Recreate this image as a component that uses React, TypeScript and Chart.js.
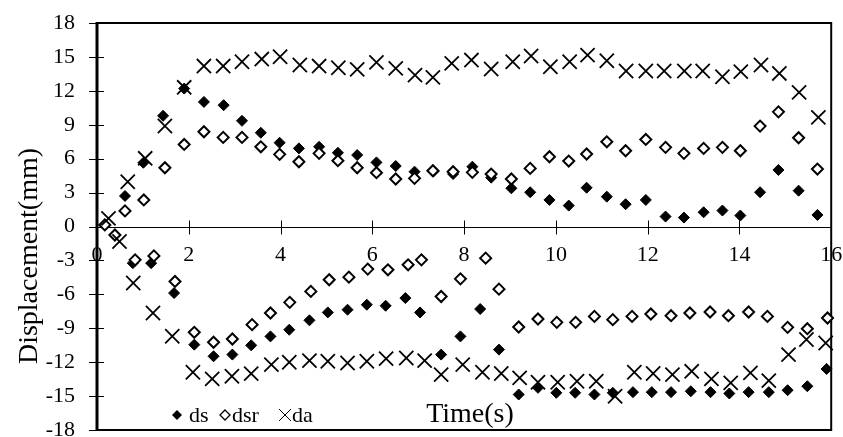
import React, { useEffect, useRef } from "react";
import { Chart, registerables } from "chart.js";

Chart.register(...registerables);

// ---- data ----
const dsTime = [
  0.61, 1.01, 1.44, 1.9, 2.33, 2.76, 3.16, 3.57, 3.98, 4.4, 4.84, 5.25, 5.67, 6.09, 6.51, 6.92, 7.34, 7.76, 8.18, 8.59,
  9.03, 9.44, 9.86, 10.28, 10.67, 11.11, 11.52, 11.96, 12.39, 12.79, 13.22, 13.63, 14.02, 14.45, 14.85, 15.29, 15.7,
  0.78, 1.18, 1.68, 2.12, 2.54, 2.95, 3.36, 3.78, 4.19, 4.63, 5.03, 5.46, 5.88, 6.29, 6.72, 7.04, 7.5, 7.92, 8.35, 8.76,
  9.19, 9.61, 10.01, 10.42, 10.84, 11.24, 11.68, 12.09, 12.51, 12.94, 13.37, 13.78, 14.2, 14.64, 15.05, 15.48, 15.9,
];
const dsValues = [
  2.7, 5.64, 9.79, 12.2, 11.02, 10.73, 9.35, 8.29, 7.41, 6.91, 7.05, 6.52, 6.32, 5.67, 5.35, 4.85, 4.9, 4.64, 5.29, 4.32,
  3.38, 3.03, 2.35, 1.85, 3.43, 2.64, 1.97, 2.35, 0.88, 0.79, 1.26, 1.41, 0.97, 3.03, 5.0, 3.17, 1.02,
  -3.24, -3.24, -5.89, -10.45, -11.48, -11.33, -10.51, -9.72, -9.13, -8.3, -7.6, -7.36, -6.92, -7.01, -6.33, -7.6,
  -11.33, -9.72, -7.3, -10.89, -14.86, -14.27, -14.71, -14.71, -14.86, -14.71, -14.65, -14.65, -14.65, -14.57, -14.65,
  -14.77, -14.65, -14.65, -14.48, -14.13, -12.6,
];

const dsrTime = [
  0.17, 0.61, 1.02, 1.48, 1.9, 2.33, 2.75, 3.16, 3.57, 3.98, 4.4, 4.84, 5.25, 5.67, 6.09, 6.51, 6.92, 7.32, 7.76, 8.18,
  8.59, 9.03, 9.44, 9.86, 10.28, 10.67, 11.11, 11.52, 11.96, 12.39, 12.79, 13.22, 13.63, 14.02, 14.45, 14.85, 15.29, 15.7,
  0.39, 0.83, 1.24, 1.7, 2.12, 2.54, 2.95, 3.38, 3.78, 4.2, 4.66, 5.06, 5.49, 5.9, 6.34, 6.78, 7.07, 7.5, 7.92, 8.47,
  8.76, 9.19, 9.61, 10.02, 10.43, 10.84, 11.24, 11.66, 12.07, 12.51, 12.92, 13.36, 13.76, 14.2, 14.61, 15.05, 15.48, 15.92,
];
const dsrValues = [
  0.14, 1.38, 2.35, 5.2, 7.26, 8.38, 7.88, 7.88, 7.05, 6.38, 5.73, 6.47, 5.82, 5.2, 4.76, 4.2, 4.26, 4.93, 4.85, 4.79,
  4.64, 4.2, 5.14, 6.17, 5.79, 6.41, 7.49, 6.7, 7.7, 7.0, 6.47, 6.91, 7.0, 6.7, 8.88, 10.14, 7.85, 5.08,
  -0.75, -2.95, -2.6, -4.86, -9.36, -10.24, -9.95, -8.68, -7.65, -6.71, -5.74, -4.71, -4.48, -3.77, -3.83, -3.39, -2.95,
  -6.19, -4.63, -2.8, -5.54, -8.89, -8.18, -8.48, -8.48, -7.95, -8.24, -7.95, -7.74, -7.89, -7.65, -7.56, -7.89, -7.56,
  -7.95, -8.92, -9.04, -8.09,
];

const daTime = [
  0.25, 0.67, 1.05, 1.48, 1.9, 2.33, 2.75, 3.16, 3.59, 3.99, 4.42, 4.84, 5.26, 5.67, 6.09, 6.51, 6.93, 7.32, 7.73, 8.16,
  8.59, 9.06, 9.46, 9.88, 10.3, 10.69, 11.11, 11.53, 11.96, 12.36, 12.8, 13.2, 13.63, 14.03, 14.47, 14.87, 15.3, 15.72,
  0.49, 0.79, 1.22, 1.64, 2.09, 2.51, 2.94, 3.36, 3.8, 4.19, 4.63, 5.03, 5.46, 5.88, 6.3, 6.74, 7.14, 7.5, 7.97, 8.4,
  8.81, 9.21, 9.61, 10.04, 10.46, 10.88, 11.29, 11.71, 12.12, 12.54, 12.96, 13.39, 13.81, 14.24, 14.64, 15.07, 15.46, 15.88,
];
const daValues = [
  0.72, 3.96, 6.03, 8.89, 12.31, 14.19, 14.19, 14.57, 14.81, 15.01, 14.28, 14.19, 14.04, 13.9, 14.52, 13.99, 13.39,
  13.19, 14.43, 14.72, 13.93, 14.57, 15.08, 14.13, 14.57, 15.16, 14.66, 13.75, 13.75, 13.75, 13.75, 13.75, 13.25, 13.7,
  14.28, 13.54, 11.86, 9.65,
  -1.33, -5.0, -7.65, -9.71, -12.89, -13.48, -13.25, -13.01, -12.22, -12.01, -11.86, -11.92, -12.07, -11.92, -11.69,
  -11.63, -11.86, -13.1, -12.22, -12.89, -13.0, -13.39, -13.78, -13.78, -13.69, -13.69, -15.01, -12.89, -13.0, -13.1,
  -12.81, -13.48, -13.83, -12.95, -13.63, -11.33, -10.0, -10.3,
];

const xTicks = [0, 2, 4, 6, 8, 10, 12, 14, 16];
const yTicks = [-18, -15, -12, -9, -6, -3, 0, 3, 6, 9, 12, 15, 18];
const seriesNames = ["ds", "dsr", "da"];
const xTitle = "Time(s)";
const yTitle = "Displacement(mm)";

const FONT = "'Liberation Serif', 'Times New Roman', serif";

const toPoints = (xs: number[], ys: number[]) => xs.map((x, i) => ({ x, y: ys[i] }));

const framePlugin = {
  id: "frame",
  beforeDatasetsDraw(chart: any) {
    const { ctx, chartArea: a, scales } = chart;
    const xs = scales.x;
    const ys = scales.y;
    const y0 = Math.round(ys.getPixelForValue(0)) + 0.5;
    ctx.save();
    ctx.strokeStyle = "#000";
    ctx.lineWidth = 1;
    ctx.beginPath();
    ctx.moveTo(a.left, y0);
    ctx.lineTo(a.right, y0);
    for (const v of xTicks) {
      const px = Math.round(xs.getPixelForValue(v)) + 0.5;
      ctx.moveTo(px, y0 - 7);
      ctx.lineTo(px, y0 + 7);
    }
    for (const v of yTicks) {
      const py = Math.round(ys.getPixelForValue(v)) + 0.5;
      ctx.moveTo(a.left - 8, py);
      ctx.lineTo(a.left + 7, py);
    }
    ctx.stroke();
    ctx.lineWidth = 2;
    ctx.strokeRect(a.left, a.top, a.right - a.left, a.bottom - a.top);
    ctx.lineWidth = 3;
    ctx.beginPath();
    ctx.moveTo(a.left, a.top - 1);
    ctx.lineTo(a.left, a.bottom + 1);
    ctx.stroke();
    ctx.restore();
  },
  afterDraw(chart: any) {
    const { ctx } = chart;
    ctx.save();
    ctx.fillStyle = "#000";
    ctx.strokeStyle = "#000";
    // x title
    ctx.font = `28px ${FONT}`;
    ctx.textAlign = "center";
    ctx.textBaseline = "alphabetic";
    ctx.fillText(xTitle, 470, 422);
    // y title
    ctx.save();
    ctx.translate(37, 256);
    ctx.rotate(-Math.PI / 2);
    ctx.fillText(yTitle, 0, 0);
    ctx.restore();
    // legend
    ctx.font = `22px ${FONT}`;
    ctx.textAlign = "left";
    const ly = 415;
    ctx.beginPath();
    ctx.moveTo(177, ly - 5);
    ctx.lineTo(182, ly);
    ctx.lineTo(177, ly + 5);
    ctx.lineTo(172, ly);
    ctx.closePath();
    ctx.fill();
    ctx.fillText(seriesNames[0], 189, 422);
    ctx.lineWidth = 1.3;
    ctx.beginPath();
    ctx.moveTo(225, ly - 5);
    ctx.lineTo(230, ly);
    ctx.lineTo(225, ly + 5);
    ctx.lineTo(220, ly);
    ctx.closePath();
    ctx.stroke();
    ctx.fillText(seriesNames[1], 232, 422);
    ctx.lineWidth = 1;
    ctx.beginPath();
    ctx.moveTo(279, ly - 6);
    ctx.lineTo(291, ly + 6);
    ctx.moveTo(291, ly - 6);
    ctx.lineTo(279, ly + 6);
    ctx.stroke();
    ctx.fillText(seriesNames[2], 292, 422);
    ctx.restore();
  },
};

export default function App() {
  const ref = useRef<HTMLCanvasElement | null>(null);

  useEffect(() => {
    document.body.style.overflow = "hidden";
    const canvas = ref.current;
    if (!canvas) return;
    const chart = new Chart(canvas, {
      type: "scatter",
      data: {
        datasets: [
          {
            label: seriesNames[2],
            data: toPoints(daTime, daValues),
            pointStyle: "crossRot",
            pointRadius: 10,
            borderColor: "#000",
            backgroundColor: "#000",
            borderWidth: 1.8,
            clip: false,
          },
          {
            label: seriesNames[1],
            data: toPoints(dsrTime, dsrValues),
            pointStyle: "rectRot",
            pointRadius: 5.5,
            borderColor: "#000",
            backgroundColor: "#fff",
            borderWidth: 2,
            clip: false,
          },
          {
            label: seriesNames[0],
            data: toPoints(dsTime, dsValues),
            pointStyle: "rectRot",
            pointRadius: 5.5,
            borderColor: "#000",
            backgroundColor: "#000",
            borderWidth: 1,
            clip: false,
          },
        ],
      },
      options: {
        responsive: false,
        animation: false,
        events: [],
        layout: { padding: { top: 23, right: 11, bottom: 20, left: 0 } },
        plugins: {
          legend: { display: false },
          tooltip: { enabled: false },
        },
        scales: {
          x: {
            type: "linear",
            position: { y: 0 },
            min: 0,
            max: 16,
            grid: { display: true, drawOnChartArea: false, drawTicks: true, tickLength: 16, color: "rgba(0,0,0,0)" },
            border: { display: false },
            afterBuildTicks: (s: any) => {
              s.ticks = xTicks.map((v) => ({ value: v }));
            },
            ticks: {
              padding: 0,
              color: "#000",
              font: { family: FONT, size: 22 },
              maxRotation: 0,
              autoSkip: false,
            },
          },
          y: {
            type: "linear",
            position: "left",
            min: -18,
            max: 18,
            grid: { display: true, drawOnChartArea: false, drawTicks: true, tickLength: 22, color: "rgba(0,0,0,0)" },
            border: { display: false },
            afterFit: (s: any) => {
              s.width = 97;
            },
            afterBuildTicks: (s: any) => {
              s.ticks = yTicks.map((v) => ({ value: v }));
            },
            ticks: {
              padding: 0,
              color: "#000",
              font: { family: FONT, size: 22 },
              autoSkip: false,
            },
          },
        },
      },
      plugins: [framePlugin],
    });
    return () => chart.destroy();
  }, []);

  return (
    <canvas
      ref={ref}
      width={843}
      height={450}
      style={{ position: "fixed", left: 0, top: 0, width: 843, height: 450, display: "block" }}
    />
  );
}
